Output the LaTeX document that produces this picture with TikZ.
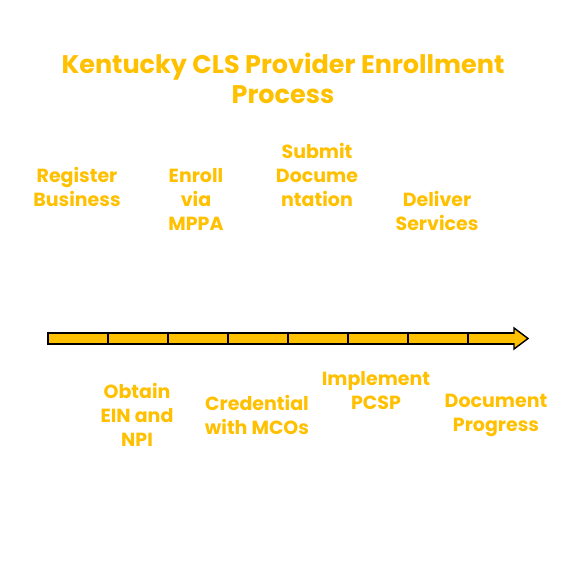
\documentclass[tikz,border=0pt]{standalone}
\usepackage{fontspec}
\newfontfamily\handfont{Poppins}
\definecolor{amber}{HTML}{FFC000}
\begin{document}
\begin{tikzpicture}[x=1pt,y=-1pt,
  lbl/.style={text=amber, align=center, inner sep=0pt, font=\handfont\bfseries\fontsize{19}{24}\selectfont},
  ttl/.style={text=amber, align=center, inner sep=0pt, font=\handfont\bfseries\fontsize{25.5}{30}\selectfont},
  seg/.style={draw=black, fill=amber, line width=1.4pt, line join=miter}]
\useasboundingbox (0,0) rectangle (582,570);
% title
\node[ttl] (title) at (283,78) {Kentucky CLS Provider Enrollment\\Process};
% timeline segments
\foreach \i in {48,108,168,228,288,348,408} {
  \draw[seg] (\i,333) rectangle (\i+60,344);
}
\draw[seg] (468,333) rectangle (515,344);
\coordinate (a3) at (514,328);
\coordinate (tip) at (528,338.5);
\coordinate (a5) at (514,349);
\draw[seg] (a3) -- (tip) -- (a5) -- cycle;
\fill[amber] (512.5,334) rectangle (516,343);
% labels above
\node[lbl] (l1) at (77,187) {Register\\Business};
\node[lbl] (l3) at (196,199) {Enroll\\via\\MPPA};
\node[lbl] (l5) at (317,175) {Submit\\Docume\\ntation};
\node[lbl] (l7) at (437,211) {Deliver\\Services};
% labels below
\node[lbl] (l2) at (137,415) {Obtain\\EIN and\\NPI};
\node[lbl] (l4) at (257,415) {Credential\\with MCOs};
\node[lbl] (l6) at (376,391) {Implement\\PCSP};
\node[lbl] (l8) at (496,415) {Document\\Progress};
\end{tikzpicture}
\end{document}
